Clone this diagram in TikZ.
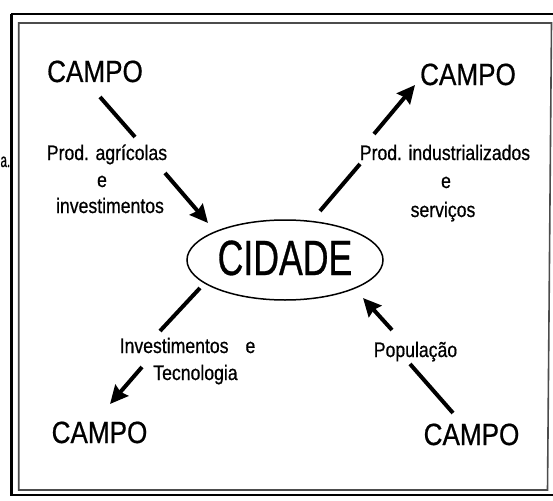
\documentclass[tikz,border=0pt]{standalone}
\usepackage{fontspec}
\setmainfont{Liberation Sans}
\newfontfamily\labfont[FakeStretch=0.84,FakeBold=0.6]{Liberation Sans}
\newfontfamily\strayfont[FakeStretch=0.6,FakeBold=0.6]{Liberation Sans}
\newfontfamily\campofont[FakeStretch=0.85,FakeBold=0.6]{Liberation Sans}
\newfontfamily\cidfont[FakeStretch=0.72,FakeBold=0.6]{Liberation Sans}
\usetikzlibrary{arrows.meta,shapes.geometric}
\begin{document}
\begin{tikzpicture}[x=1pt,y=-1pt,
  campo/.style={font={\campofont\fontsize{30.7pt}{36pt}\selectfont}, inner sep=0pt, anchor=base},
  lbl/.style={font={\labfont\fontsize{21pt}{25pt}\selectfont}, inner sep=0pt, anchor=base},
  seg/.style={line width=4pt},
  arr/.style={line width=4pt, -{Stealth[length=18pt,width=17pt,inset=2pt]}},
  outerframe/.style={line width=2.7pt, black},
  innerframe/.style={line width=1.6pt, black!70}]
\useasboundingbox (0,0) rectangle (553,500);
\fill[white] (0,0) rectangle (553,500);

% frames
\draw[outerframe] (11.3,14) -- (560,14) (11.3,14) -- (11.3,495) -- (560,495);
\draw[innerframe] (18.7,23) -- (551.5,23) -- (547.5,490) -- (18.7,490) -- cycle;

% stray text at the left edge
\node[font={\strayfont\fontsize{19.5pt}{24pt}\selectfont}, inner sep=0pt, anchor=base west] (stray) at (0.3,167) {a.};

% central node
\node[draw, ellipse, line width=1.5pt, minimum width=196pt, minimum height=80pt, inner sep=0pt,
      text height=36pt, text depth=6pt, font={\cidfont\fontsize{49.5pt}{56pt}\selectfont}]
      (cidade) at (285,260) {CIDADE};

% field nodes
\node[campo] (c1) at (95,82) {CAMPO};
\node[campo] (c2) at (468,85) {CAMPO};
\node[campo] (c3) at (99.5,443) {CAMPO};
\node[campo] (c4) at (471.5,445) {CAMPO};

% labels
\node[lbl] (l1a) at (107,160) {Prod. agrícolas};
\node[lbl] (l1b) at (102,187) {e};
\node[lbl] (l1c) at (110,213) {investimentos};

\node[lbl] (l2a) at (445,160) {Prod. industrializados};
\node[lbl] (l2b) at (446,188) {e};
\node[lbl] (l2c) at (443,217) {serviços};

\node[lbl, anchor=base west] (l3a) at (119.5,353) {Investimentos\hspace*{17pt}e};
\node[lbl] (l3b) at (195.5,380) {Tecnologia};

\node[lbl] (l4) at (415.5,357) {População};

% arrow end points
\coordinate (a1s) at (100,97);  \coordinate (a1b) at (135,137);
\coordinate (a1c) at (165,173); \coordinate (a1e) at (208,223);
\coordinate (a2s) at (320,211); \coordinate (a2b) at (360,164);
\coordinate (a2c) at (374,134); \coordinate (a2e) at (415,85);
\coordinate (a3s) at (200,288); \coordinate (a3b) at (160,331);
\coordinate (a3c) at (142,367); \coordinate (a3e) at (110,404);
\coordinate (a4s) at (453,413); \coordinate (a4b) at (410,364);
\coordinate (a4c) at (392,330); \coordinate (a4e) at (363,298);

% arrows
\draw[seg] (a1s) -- (a1b);
\draw[arr] (a1c) -- (a1e);
\draw[seg] (a2s) -- (a2b);
\draw[arr] (a2c) -- (a2e);
\draw[seg] (a3s) -- (a3b);
\draw[arr] (a3c) -- (a3e);
\draw[seg] (a4s) -- (a4b);
\draw[arr] (a4c) -- (a4e);
\end{tikzpicture}
\end{document}
